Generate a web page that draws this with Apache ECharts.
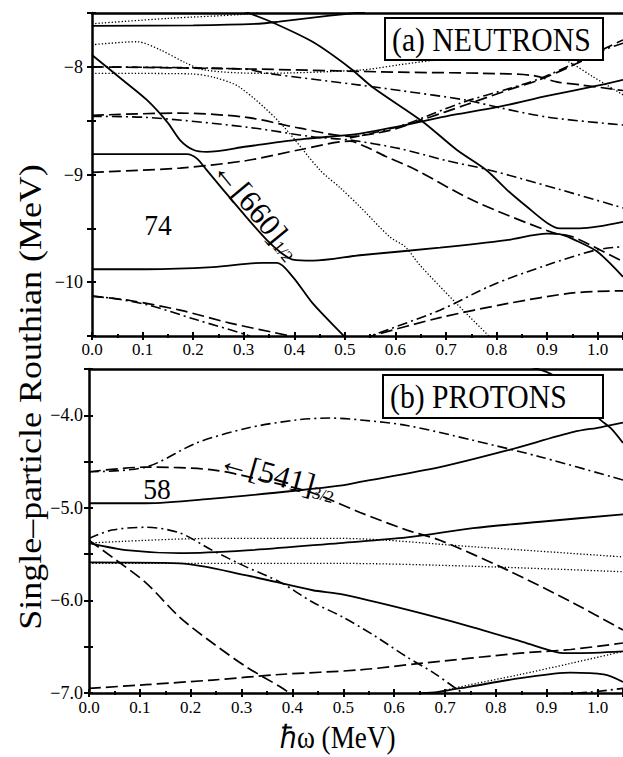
<!DOCTYPE html>
<html><head><meta charset="utf-8">
<script src="https://cdn.jsdelivr.net/npm/echarts@6.0.0/dist/echarts.min.js"></script>
<style>html,body{margin:0;padding:0;background:#fff}#c{width:623px;height:757px}</style>
</head><body><div id="c"></div>
<script>
// ---------- tick labels ----------
const xTickLabels = ['0.0','0.1','0.2','0.3','0.4','0.5','0.6','0.7','0.8','0.9','1.0'];
const nYTickValues = [-8, -9, -10];
const pYTickValues = [-4, -5, -6, -7];

// ---------- (a) NEUTRONS : [hbar-omega (MeV), Routhian (MeV)] ----------
const n_solid_top   = [[0,-7.62],[0.20,-7.615],[0.33,-7.60],[0.37,-7.58],[0.47,-7.525],[0.54,-7.49]];
const n_solid_steep = [[0.30,-7.48],[0.31,-7.50],[0.358,-7.59],[0.437,-7.77],[0.51,-8.01],[0.555,-8.19],[0.654,-8.51],[0.721,-8.77],[0.78,-8.96],[0.82,-9.14],[0.86,-9.30],[0.90,-9.45],[0.925,-9.50],[0.964,-9.50],[1.05,-9.44]];
const n_solid_A     = [[0,-7.89],[0.06,-8.12],[0.109,-8.31],[0.15,-8.52],[0.174,-8.68],[0.20,-8.77],[0.227,-8.79],[0.306,-8.74],[0.42,-8.67],[0.53,-8.62],[0.609,-8.55],[0.70,-8.46],[0.806,-8.37],[0.90,-8.27],[1.004,-8.17],[1.05,-8.12]];
const n_solid_660   = [[0,-8.81],[0.188,-8.81],[0.207,-8.85],[0.227,-8.96],[0.259,-9.14],[0.306,-9.40],[0.346,-9.61],[0.372,-9.72],[0.397,-9.79],[0.437,-9.80],[0.53,-9.75],[0.688,-9.68],[0.82,-9.61],[0.90,-9.55],[0.93,-9.56],[0.96,-9.62],[1.0,-9.72],[1.05,-9.95]];
const n_solid_C     = [[0,-9.88],[0.109,-9.88],[0.239,-9.86],[0.338,-9.82],[0.366,-9.82],[0.397,-9.95],[0.437,-10.20],[0.496,-10.49],[0.51,-10.56]];
const n_dash_8      = [[0,-8.0],[0.312,-8.02],[0.609,-8.05],[0.773,-8.06],[0.872,-8.08],[0.919,-8.14],[0.97,-8.17],[1.05,-8.22]];
const n_dash_845    = [[0,-8.45],[0.174,-8.43],[0.306,-8.47],[0.411,-8.57],[0.51,-8.645],[0.589,-8.59],[0.654,-8.49],[0.741,-8.35],[0.826,-8.21],[0.885,-8.12],[0.958,-7.97],[1.014,-7.83],[1.05,-7.75]];
const n_dash_9      = [[0,-8.98],[0.174,-8.94],[0.306,-8.87],[0.411,-8.77],[0.51,-8.69],[0.54,-8.74],[0.58,-8.83],[0.642,-8.96],[0.753,-9.24],[0.911,-9.54],[0.951,-9.58],[1.05,-9.81]];
const n_dash_1013   = [[0,-10.13],[0.075,-10.17],[0.174,-10.26],[0.273,-10.38],[0.391,-10.5],[0.41,-10.53]];
const n_dash_rise   = [[0.54,-10.53],[0.553,-10.5],[0.688,-10.33],[0.82,-10.2],[0.951,-10.10],[1.05,-10.08]];
const n_dd_8        = [[0,-8.0],[0.30,-8.02],[0.346,-8.06],[0.53,-8.17],[0.609,-8.22],[0.741,-8.31],[0.806,-8.38],[0.905,-8.47],[1.05,-8.54]];
const n_dd_845      = [[0,-8.46],[0.109,-8.47],[0.306,-8.56],[0.437,-8.65],[0.51,-8.68],[0.609,-8.76],[0.70,-8.87],[0.787,-8.96],[0.925,-9.14],[1.05,-9.31]];
const n_dd_rise     = [[0.51,-8.66],[0.609,-8.55],[0.733,-8.33],[0.826,-8.20],[0.885,-8.11],[0.958,-7.96],[1.014,-7.84],[1.05,-7.78]];
const n_dd_1013     = [[0,-10.13],[0.04,-10.15],[0.109,-10.21],[0.207,-10.35],[0.306,-10.49],[0.32,-10.52]];
const n_dd_rise2    = [[0.53,-10.53],[0.55,-10.5],[0.688,-10.26],[0.79,-10.03],[0.90,-9.84],[0.998,-9.70],[1.05,-9.67]];
const n_dot_top     = [[0,-7.60],[0.15,-7.55],[0.306,-7.51],[0.34,-7.48]];
const n_dot_78      = [[0,-7.795],[0.089,-7.767],[0.134,-7.84],[0.184,-7.96],[0.223,-8.03],[0.332,-8.06],[0.53,-8.03],[0.609,-7.98],[0.674,-7.94],[0.80,-7.88],[0.90,-7.88],[0.945,-7.96],[0.99,-8.09],[1.05,-8.26]];
const n_dot_steep   = [[0,-8.06],[0.194,-8.065],[0.243,-8.10],[0.292,-8.19],[0.372,-8.52],[0.451,-8.96],[0.49,-9.12],[0.53,-9.30],[0.589,-9.58],[0.619,-9.67],[0.648,-9.84],[0.721,-10.20],[0.787,-10.51]];

// ---------- (b) PROTONS ----------
const p_dd_46       = [[0,-4.61],[0.112,-4.56],[0.211,-4.30],[0.31,-4.14],[0.408,-4.05],[0.473,-4.03],[0.533,-4.05],[0.625,-4.11],[0.755,-4.27],[0.888,-4.45],[1.05,-4.70]];
const p_dash_541    = [[0,-4.61],[0.112,-4.56],[0.243,-4.59],[0.341,-4.70],[0.44,-4.84],[0.533,-5.05],[0.625,-5.24],[0.69,-5.35],[0.822,-5.67],[0.953,-6.03],[1.05,-6.32]];
const p_solid_58    = [[0,-4.95],[0.112,-4.95],[0.243,-4.90],[0.414,-4.81],[0.493,-4.76],[0.533,-4.72],[0.69,-4.56],[0.822,-4.38],[0.953,-4.18],[1.006,-4.13],[1.05,-4.08]];
const p_solid_top   = [[0.87,-3.48],[0.907,-3.55],[0.95,-3.70],[0.98,-3.86],[1.002,-4.03],[1.026,-4.14],[1.05,-4.30]];
const p_solid_54    = [[0,-5.38],[0.079,-5.46],[0.178,-5.49],[0.31,-5.46],[0.493,-5.38],[0.625,-5.32],[0.755,-5.22],[0.888,-5.15],[1.05,-5.07]];
const p_solid_56    = [[0,-5.59],[0.178,-5.60],[0.31,-5.73],[0.44,-5.89],[0.493,-5.93],[0.625,-6.10],[0.755,-6.29],[0.854,-6.45],[0.921,-6.56],[0.953,-6.57],[1.05,-6.55]];
const p_solid_low   = [[0.64,-7.02],[0.66,-7.0],[0.684,-6.99],[0.75,-6.93],[0.848,-6.84],[0.947,-6.78],[1.012,-6.80],[1.05,-6.88]];
const p_dot_54      = [[0,-5.38],[0.243,-5.33],[0.493,-5.33],[0.755,-5.42],[1.05,-5.53]];
const p_dot_56      = [[0,-5.60],[0.493,-5.60],[0.75,-5.63],[1.05,-5.69]];
const p_dot_low     = [[0.67,-7.02],[0.716,-6.95],[0.848,-6.80],[0.947,-6.68],[1.05,-6.55]];
const p_dd_52       = [[0,-5.33],[0.045,-5.24],[0.112,-5.21],[0.178,-5.27],[0.243,-5.46],[0.31,-5.64],[0.375,-5.80],[0.44,-6.02],[0.499,-6.18],[0.558,-6.37],[0.625,-6.61],[0.677,-6.78],[0.716,-6.93],[0.74,-7.02]];
const p_dash_steep  = [[0,-5.35],[0.045,-5.53],[0.112,-5.81],[0.178,-6.18],[0.243,-6.46],[0.31,-6.72],[0.375,-6.93],[0.394,-7.0],[0.40,-7.03]];
const p_dash_low    = [[0,-6.95],[0.112,-6.91],[0.243,-6.86],[0.375,-6.80],[0.533,-6.75],[0.651,-6.68],[0.848,-6.57],[0.947,-6.53],[1.05,-6.46]];
const p_dd_low      = [[0.92,-7.01],[0.986,-6.99],[1.05,-6.95]];

// ---------- curve table (panel 0 = neutrons, 1 = protons) ----------
const curves = [
  [0,'solid',n_solid_top],[0,'solid',n_solid_steep],[0,'solid',n_solid_A],[0,'solid',n_solid_660],[0,'solid',n_solid_C],
  [0,'dashed',n_dash_8],[0,'dashed',n_dash_845],[0,'dashed',n_dash_9],[0,'dashed',n_dash_1013],[0,'dashed',n_dash_rise],
  [0,'dashdot',n_dd_8],[0,'dashdot',n_dd_845],[0,'dashdot',n_dd_rise],[0,'dashdot',n_dd_1013],[0,'dashdot',n_dd_rise2],
  [0,'dotted',n_dot_top],[0,'dotted',n_dot_78],[0,'dotted',n_dot_steep],
  [1,'dashdot',p_dd_46],[1,'dashed',p_dash_541],[1,'solid',p_solid_58],[1,'solid',p_solid_top],[1,'solid',p_solid_54],
  [1,'solid',p_solid_56],[1,'solid',p_solid_low],[1,'dotted',p_dot_54],[1,'dotted',p_dot_56],[1,'dotted',p_dot_low],
  [1,'dashdot',p_dd_52],[1,'dashed',p_dash_steep],[1,'dashed',p_dash_low],[1,'dashdot',p_dd_low]
];

const SERIF = 'Liberation Serif';
const STY = {
  solid:   {width:1.8, type:'solid'},
  dashed:  {width:1.7, type:[12,5]},
  dashdot: {width:1.6, type:[10,4,2,4]},
  dotted:  {width:1.3, type:[1.3,2]}
};

const grids = [
  {left:92, top:13, width:531, height:323},
  {left:89, top:369, width:534, height:324}
];
const yRanges = [[-10.5,-7.5],[-7.0,-3.5]];

function xFmt(v){
  const k = Math.round(v*100);
  if (k % 10 !== 0 || k > 100) return '';
  return xTickLabels[k/10];
}
function yFmt(gi){
  return function(v){
    const r = Math.round(v*100)/100;
    if (gi === 0) return nYTickValues.indexOf(r) >= 0 ? '\u2212' + Math.abs(r) : '';
    return pYTickValues.indexOf(r) >= 0 ? '\u2212' + Math.abs(r).toFixed(1) : '';
  };
}
const blk = '#000';
const xAxes = [], yAxes = [];
grids.forEach((g, gi) => {
  xAxes.push({gridIndex:gi, type:'value', min:0, max:1.05, interval:0.1, position:'bottom',
    axisLine:{show:true, onZero:false, lineStyle:{color:blk, width:2.5}},
    axisTick:{show:true, inside:false, length:4, lineStyle:{color:blk, width:2}},
    minorTick:{show:true, splitNumber:2, length:2, lineStyle:{color:blk, width:2}},
    splitLine:{show:false}, minorSplitLine:{show:false},
    axisLabel:{formatter:xFmt, fontFamily:SERIF, fontSize:17, color:blk, margin: gi===0?5:6, showMaxLabel:false, hideOverlap:false}});
  xAxes.push({gridIndex:gi, type:'value', min:0, max:1.05, interval:0.1, position:'bottom',
    axisLine:{show:false, onZero:false},
    axisTick:{show:true, inside:true, length:4, lineStyle:{color:blk, width:2}},
    minorTick:{show:true, splitNumber:2, length:2, lineStyle:{color:blk, width:2}},
    splitLine:{show:false}, axisLabel:{show:false}});
  xAxes.push({gridIndex:gi, type:'value', min:0, max:1.05, position:'top',
    axisLine:{show:true, onZero:false, lineStyle:{color:blk, width:2.5}},
    axisTick:{show:false}, splitLine:{show:false}, axisLabel:{show:false}});
  yAxes.push({gridIndex:gi, type:'value', min:yRanges[gi][0], max:yRanges[gi][1], interval:0.5, position:'left',
    axisLine:{show:true, onZero:false, lineStyle:{color:blk, width:2.5}},
    axisTick:{show:true, inside:false, length:5, lineStyle:{color:blk, width:2}},
    splitLine:{show:false},
    axisLabel:{formatter:yFmt(gi), fontFamily:SERIF, fontSize:18, color:blk, margin: gi===0?9:6, showMaxLabel:true, showMinLabel:true}});
  yAxes.push({gridIndex:gi, type:'value', min:yRanges[gi][0], max:yRanges[gi][1], interval:0.5, position:'left',
    axisLine:{show:false, onZero:false},
    axisTick:{show:true, inside:true, length:4, lineStyle:{color:blk, width:2}},
    splitLine:{show:false}, axisLabel:{show:false}});
});

const series = curves.map(([gi, st, data]) => ({
  type:'line', xAxisIndex: gi*3, yAxisIndex: gi*2, data: data,
  symbol:'none', smooth:0.3, silent:true, animation:false, clip:true,
  lineStyle:{color:blk, width:STY[st].width, type:STY[st].type, cap:'butt'}
}));

const T = (o) => Object.assign({type:'text', z:101, silent:true}, o);
const mid = {textAlign:'center', textVerticalAlign:'middle', align:'center', verticalAlign:'middle'};
const lmid = {textAlign:'left', textVerticalAlign:'middle', align:'left', verticalAlign:'middle'};
const graphic = [
  {type:'rect', z:100, shape:{x:385, y:18, width:218, height:42}, style:{fill:'#fff', stroke:blk, lineWidth:2}},
  T({x:392, y:40, scaleX:0.9, style:Object.assign({text:'(a) NEUTRONS', fontSize:33, fontFamily:SERIF, fill:blk}, lmid)}),
  {type:'rect', z:100, shape:{x:383, y:375, width:220, height:43}, style:{fill:'#fff', stroke:blk, lineWidth:2}},
  T({x:390, y:397, scaleX:0.9, style:Object.assign({text:'(b) PROTONS', fontSize:33, fontFamily:SERIF, fill:blk}, lmid)}),
  T({x:158, y:225, scaleX:0.92, style:Object.assign({text:'74', fontSize:30, fontFamily:SERIF, fill:blk}, mid)}),
  T({x:157, y:489, scaleX:0.92, style:Object.assign({text:'58', fontSize:30, fontFamily:SERIF, fill:blk}, mid)}),
  T({x:219, y:163, rotation:-50.6*Math.PI/180, style:Object.assign({text:'{a|\u2190[660]}{b|1/2}', fill:blk,
      rich:{a:{fontSize:31, fontFamily:SERIF, fill:blk, verticalAlign:'bottom'}, b:{fontSize:17, fontFamily:SERIF, fill:blk, verticalAlign:'bottom', padding:[12,0,0,0]}}}, lmid)}),
  T({x:220, y:459, rotation:-15.6*Math.PI/180, style:Object.assign({text:'{a|\u2190[541]}{b|3/2}', fill:blk,
      rich:{a:{fontSize:31, fontFamily:SERIF, fill:blk, verticalAlign:'bottom'}, b:{fontSize:17, fontFamily:SERIF, fill:blk, verticalAlign:'bottom', padding:[12,0,0,0]}}}, lmid)}),
  T({x:338, y:737, scaleX:0.85, style:Object.assign({text:'\u210F\u03C9 (MeV)', fontSize:32, fontFamily:SERIF, fill:blk}, mid)}),
  T({x:30, y:397, rotation:Math.PI/2, scaleY:0.85, style:Object.assign({text:'Single\u2013particle Routhian (MeV)', fontSize:36, fontFamily:SERIF, fill:blk}, mid)})
];

const chart = echarts.init(document.getElementById('c'), null, {renderer:'svg', width:623, height:757});
chart.setOption({
  backgroundColor:'#fff', animation:false,
  grid: grids, xAxis: xAxes, yAxis: yAxes, series: series, graphic: graphic
});
</script></body></html>
